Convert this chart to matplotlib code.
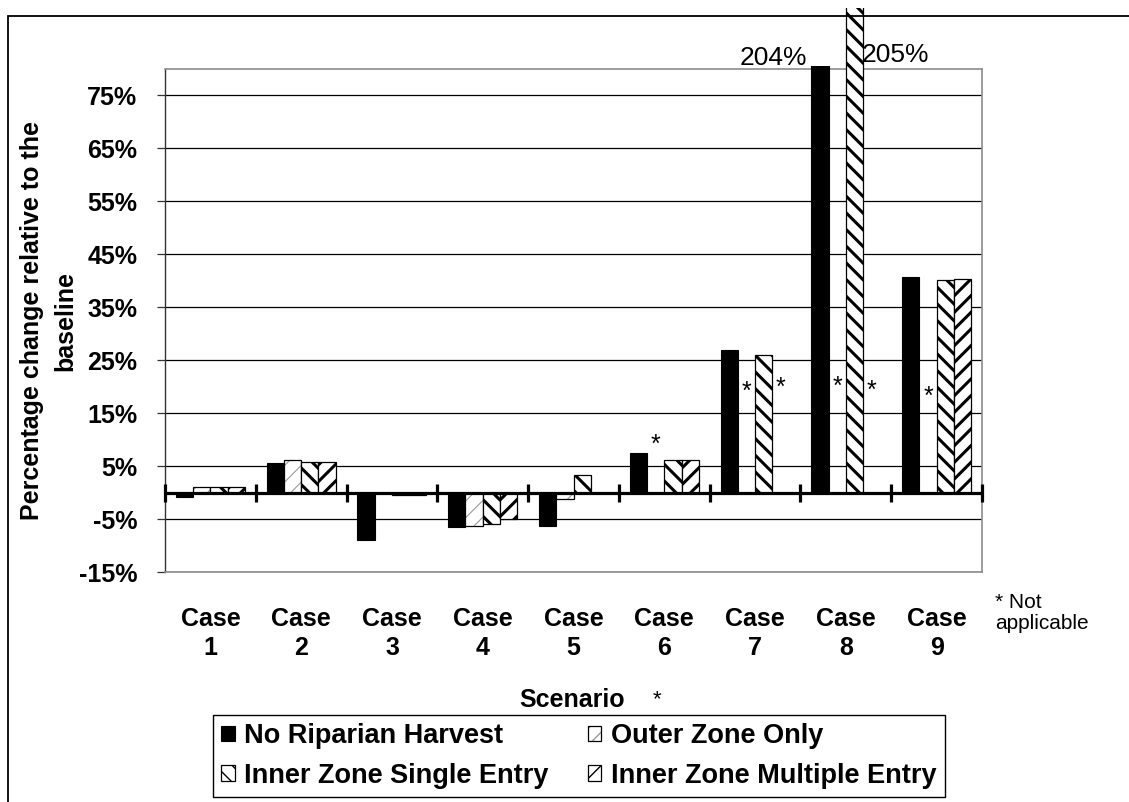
import numpy as np
import matplotlib
matplotlib.use("Agg")
import matplotlib.pyplot as plt
from matplotlib.patches import Rectangle
from matplotlib.legend_handler import HandlerTuple
from matplotlib.transforms import Bbox, TransformedBbox

# Data (percentage change relative to baseline), NaN = not applicable
cases = ["Case\n1", "Case\n2", "Case\n3", "Case\n4", "Case\n5",
         "Case\n6", "Case\n7", "Case\n8", "Case\n9"]
series_names = ["No Riparian Harvest", "Outer Zone Only",
                "Inner Zone Single Entry", "Inner Zone Multiple Entry"]
no_riparian = [-0.8, 5.6, -8.9, -6.5, -6.3, 7.4, 27.0, 204.0, 40.7]
outer_zone = [1.1, 6.2, 0.0, -6.3, -1.3, np.nan, np.nan, np.nan, np.nan]
inner_single = [1.0, 5.8, -0.4, -5.9, 3.3, 6.2, 26.0, 205.0, 40.1]
inner_multiple = [1.0, 5.8, -0.4, -4.9, 0.0, 6.1, np.nan, np.nan, 40.4]
# height of the "*" marks for the not-applicable bars, in case order
na_heights = [9.1, 19.0, 19.7, 19.9, 19.3, 18.0]
y_ticks = [-15, -5, 5, 15, 25, 35, 45, 55, 65, 75]

FONT = "Liberation Sans"
plt.rcParams["font.family"] = [FONT, "DejaVu Sans"]

W, H = 1129, 802
fig = plt.figure(figsize=(W / 100, H / 100), dpi=100)
ax = fig.add_axes([165 / W, 1 - 572 / H, (982 - 165) / W, (572 - 69) / H])
ax.set_ylim(-15, 80)
ax.set_xlim(-0.5, len(cases) - 0.5)

# outer chart frame
fig.patches.append(Rectangle((8 / W, -0.1), 2, 1.1 - 16 / H, transform=fig.transFigure,
                             fill=False, ec="black", lw=1.3, zorder=0))

x = np.arange(len(cases))
bw = 0.19
offsets = (np.arange(4) - 1.5) * bw
all_series = [no_riparian, outer_zone, inner_single, inner_multiple]

normal_clip = TransformedBbox(Bbox([[0, -0.1], [1, 1 + 3 / 503]]), ax.transAxes)
tall_clip = TransformedBbox(Bbox([[0, -0.1], [1, 1 + 61 / 503]]), ax.transAxes)

# No riparian harvest: solid black
b0 = ax.bar(x + offsets[0], no_riparian, bw, color="black", ec="black", lw=0.8, zorder=3)

# Outer zone only: light dashed hatch with dark outline
with plt.rc_context({"hatch.linewidth": 0.8}):
    b1h = ax.bar(x + offsets[1], outer_zone, bw, color="white", ec="#9a9a9a",
                 hatch="//", lw=0, zorder=3)
b1o = ax.bar(x + offsets[1], outer_zone, bw, fill=False, ec="black", lw=0.9, zorder=3)

# Inner zone entries: bold diagonal stripes
with plt.rc_context({"hatch.linewidth": 2.2}):
    b2 = ax.bar(x + offsets[2], inner_single, bw, color="white", ec="black",
                hatch="\\\\", lw=0.9, zorder=3)
    b3 = ax.bar(x + offsets[3], inner_multiple, bw, color="white", ec="black",
                hatch="//", lw=0.9, zorder=3)

for cont in (b0, b1h, b1o, b2, b3):
    for p in cont:
        p.set_clip_box(normal_clip)
b2[7].set_clip_box(tall_clip)

# values beyond the axis
ax.annotate(f"{no_riparian[7]:.0f}%", xy=(x[7] + offsets[0], 80), xytext=(-9, 8),
            textcoords="offset points", ha="right", va="center", fontsize=19,
            annotation_clip=False)
ax.annotate(f"{inner_single[7]:.0f}%", xy=(x[7] + offsets[2], 80), xytext=(5, 10),
            textcoords="offset points", ha="left", va="center", fontsize=19,
            annotation_clip=False)

# "*" for not applicable
k = 0
for i in range(len(cases)):
    for j, s in enumerate(all_series):
        if np.isnan(s[i]):
            ax.text(x[i] + offsets[j], na_heights[k], "*", ha="center", va="center",
                    fontsize=18, zorder=4)
            k += 1

# grid and axes styling
ax.set_yticks(y_ticks)
ax.set_yticklabels([f"{t}%" for t in y_ticks], fontsize=18, fontweight="bold")
ax.yaxis.grid(True, color="black", lw=0.9)
ax.set_axisbelow(True)
ax.tick_params(axis="y", length=6, width=0.9, pad=14, color="#333333")
ax.set_xticks(x)
ax.set_xticklabels(cases, fontsize=18, fontweight="bold", linespacing=1.3)
ax.tick_params(axis="x", length=0, pad=25)
for side in ("top", "right", "bottom"):
    ax.spines[side].set_color("#8c8c8c")
    ax.spines[side].set_linewidth(1.2)
ax.spines["left"].set_color("#333333")
ax.spines["left"].set_linewidth(1.0)

# zero line with category dividers
ax.axhline(0, color="black", lw=2.3, zorder=4)
ax.plot(np.arange(len(cases) + 1) - 0.5, np.zeros(len(cases) + 1), ls="", marker="|",
        ms=13, mew=2.3, color="black", zorder=4, clip_on=False)

fig.text(49 / W, 1 - 321 / H, "Percentage change relative to the\nbaseline",
         rotation=90, ha="center", va="center", fontsize=18, fontweight="bold",
         multialignment="center", linespacing=1.5)
fig.text(572 / W, 1 - 700 / H, "Scenario", ha="center", va="center",
         fontsize=18, fontweight="bold")
fig.text(657 / W, 1 - 700 / H, "*", ha="center", va="center", fontsize=16)
fig.text(995 / W, 1 - 613 / H, "* Not\napplicable", ha="left", va="center",
         fontsize=15, linespacing=1.15)

# legend fills column by column: first column holds series 0 and 2
handles = [b0[0], b2[0], (b1h[0], b1o[0]), b3[0]]
labels = [series_names[0], series_names[2], series_names[1], series_names[3]]
leg = fig.legend(handles, labels,
                 handler_map={tuple: HandlerTuple(ndivide=1, pad=0)},
                 loc="upper left", bbox_to_anchor=(213 / W, 1 - 715 / H), ncol=2,
                 prop={"family": FONT, "weight": "bold", "size": 19.5},
                 frameon=True, fancybox=False, edgecolor="black", framealpha=1,
                 handlelength=0.5, handleheight=0.5, handletextpad=0.35,
                 columnspacing=1.45, labelspacing=0.5, borderpad=0.3,
                 borderaxespad=0)
leg.get_frame().set_linewidth(1.0)

fig.savefig("out.png", dpi=100)
